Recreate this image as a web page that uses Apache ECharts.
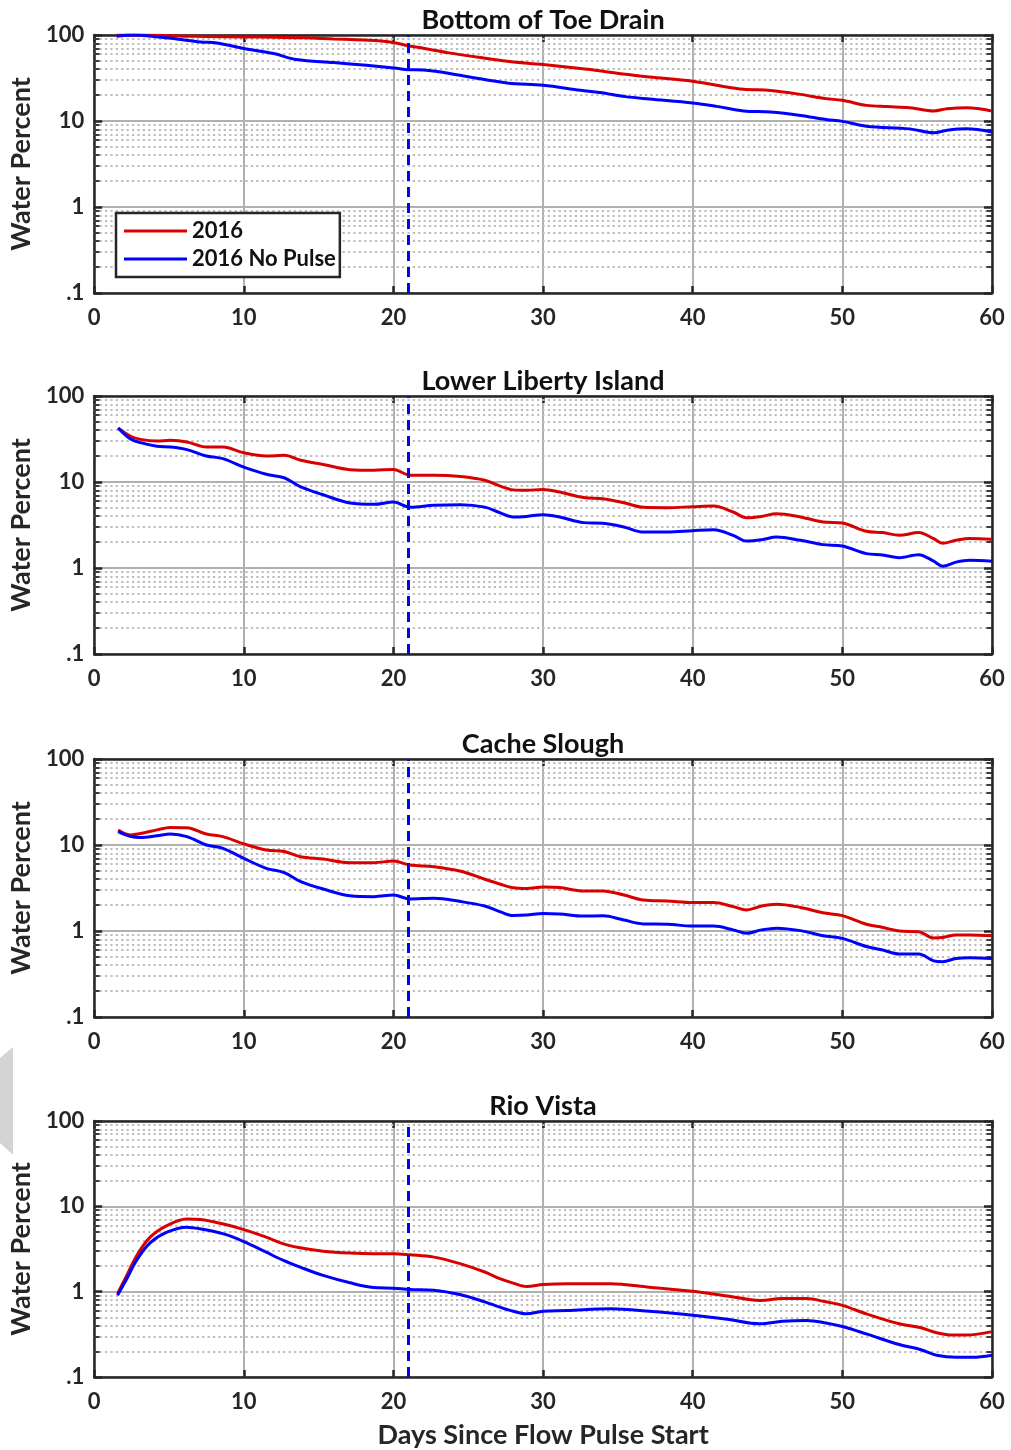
<!DOCTYPE html>
<html>
<head>
<meta charset="utf-8">
<script src="https://cdn.jsdelivr.net/npm/echarts@6/dist/echarts.min.js"></script>
<style>
  html, body { margin: 0; padding: 0; background: #fff; }
  #chart { width: 1011px; height: 1450px; }
</style>
</head>
<body>
<div id="chart"></div>
<script>
// ---------------- DATA ----------------
const PANEL_TITLES = ['Bottom of Toe Drain', 'Lower Liberty Island', 'Cache Slough', 'Rio Vista'];
const SERIES_NAMES = ['2016', '2016 No Pulse'];
const X_TICKS = [0, 10, 20, 30, 40, 50, 60];
const Y_TICK_LABELS = { 0.1: '.1', 1: '1', 10: '10', 100: '100' };
const PULSE_DAY = 21;

// Bottom of Toe Drain
const TOE_DAYS_RED = [1.5, 3, 4.5, 6, 7.5, 10, 12, 14, 16, 17.5, 19, 20, 21, 22, 23.6, 25.8, 27.6, 30, 32.5, 34, 35.5, 37.1, 40, 41.6, 43.4, 45.2, 47.2, 48.9, 50, 51.6, 53, 54.5, 56.1, 57, 58.3, 60];
const TOE_RED = [100, 100, 99, 97, 96, 95, 94, 93, 90, 88, 86, 82, 75, 70, 62.4, 54.6, 49.5, 45.3, 40.7, 38, 34.9, 32.5, 29, 26, 23.4, 22.7, 20.4, 18.2, 17.4, 15.2, 14.7, 14.3, 13.1, 13.9, 14.3, 13.1];
const TOE_DAYS_BLUE = [1.5, 2.6, 4.3, 5.5, 7.1, 8.2, 10, 12, 13.5, 16, 18.2, 20.2, 21, 22, 24.7, 27.6, 30, 32.5, 33.8, 35.5, 37.1, 40, 41.6, 43.4, 45.2, 47.2, 48.9, 50, 51.6, 54.5, 56.1, 57, 58.3, 60];
const TOE_BLUE = [97, 100, 95, 90, 83, 80.8, 69.5, 60.8, 51.8, 47.8, 44.4, 41, 39.5, 39.2, 33.4, 27.7, 26, 22.8, 21.5, 19.2, 18, 16.2, 14.8, 13.1, 12.7, 11.6, 10.4, 9.9, 8.7, 8.1, 7.3, 7.8, 8.1, 7.45];

// Lower Liberty Island & Cache Slough share day samples
const SHARED_DAYS = [1.6, 2.4, 3.1, 4.2, 5.1, 6.2, 7.5, 8.6, 10, 11.5, 12.7, 13.8, 15.3, 17.1, 18.7, 20, 21.1, 22.7, 24.5, 26.1, 27.1, 28, 28.9, 30, 31.1, 32.7, 34, 35.4, 36.7, 38.3, 40, 41.4, 42.7, 43.6, 44.6, 45.6, 47.2, 48.7, 50, 51.6, 52.7, 53.8, 55.1, 56.1, 56.7, 57.6, 58.5, 60];
const LIBERTY_RED = [42.5, 34.3, 31.3, 30, 30.5, 29.2, 25.5, 25.5, 21.9, 20.1, 20.4, 17.9, 16, 13.9, 13.7, 14, 12.0, 12, 11.6, 10.5, 9.0, 8.1, 8.0, 8.2, 7.65, 6.6, 6.4, 5.75, 5.07, 5.03, 5.16, 5.26, 4.48, 3.85, 3.98, 4.28, 3.92, 3.43, 3.34, 2.67, 2.58, 2.4, 2.58, 2.19, 1.94, 2.1, 2.21, 2.16];
const LIBERTY_BLUE = [42.5, 31.9, 28.7, 26, 25.5, 23.8, 20.1, 18.7, 14.9, 12.3, 11.2, 8.75, 7.1, 5.7, 5.5, 5.85, 5.1, 5.36, 5.45, 5.1, 4.4, 3.92, 3.98, 4.17, 3.92, 3.37, 3.31, 3.0, 2.62, 2.62, 2.72, 2.79, 2.4, 2.06, 2.13, 2.29, 2.1, 1.87, 1.8, 1.47, 1.42, 1.32, 1.43, 1.2, 1.05, 1.17, 1.23, 1.2];
const CACHE_RED = [14.9, 13.1, 13.6, 15, 16, 15.9, 13.4, 12.5, 10.3, 8.75, 8.4, 7.3, 6.87, 6.23, 6.23, 6.5, 5.85, 5.6, 4.95, 4.0, 3.52, 3.19, 3.13, 3.25, 3.2, 2.92, 2.92, 2.62, 2.29, 2.23, 2.14, 2.14, 1.92, 1.76, 1.95, 2.04, 1.88, 1.63, 1.51, 1.2, 1.1, 1.0, 0.98, 0.83, 0.84, 0.9, 0.9, 0.88];
const CACHE_BLUE = [14.3, 12.6, 12.2, 12.8, 13.4, 12.5, 10, 9.15, 7.0, 5.36, 4.77, 3.75, 3.08, 2.57, 2.51, 2.62, 2.36, 2.4, 2.2, 1.95, 1.68, 1.51, 1.53, 1.6, 1.58, 1.49, 1.5, 1.34, 1.21, 1.2, 1.14, 1.14, 1.03, 0.94, 1.03, 1.08, 1.01, 0.88, 0.82, 0.66, 0.6, 0.54, 0.54, 0.45, 0.44, 0.48, 0.49, 0.48];

// Rio Vista
const RIO_DAYS_RED = [1.56, 2.18, 2.85, 3.74, 4.86, 6.19, 7.1, 8.64, 10, 11.5, 12.65, 13.76, 15.3, 17.1, 18.66, 20, 21.1, 22.7, 24.5, 26.1, 27.1, 28, 28.9, 30, 31.6, 34.5, 37.1, 40, 42.3, 44.5, 46, 47.6, 48.9, 50, 51.6, 53.8, 55.2, 56.3, 57.4, 58.3, 60];
const RIO_RED = [0.95, 1.55, 2.66, 4.35, 5.95, 7.1, 7.0, 6.2, 5.34, 4.35, 3.63, 3.27, 2.98, 2.83, 2.78, 2.78, 2.7, 2.54, 2.12, 1.7, 1.42, 1.26, 1.15, 1.21, 1.24, 1.24, 1.13, 1.01, 0.89, 0.79, 0.83, 0.83, 0.76, 0.69, 0.55, 0.42, 0.38, 0.33, 0.31, 0.31, 0.34];
const RIO_DAYS_BLUE = [1.56, 2.18, 2.85, 3.74, 4.86, 6.19, 7.1, 8.64, 10, 11.5, 12.65, 13.76, 15.3, 17.1, 18.66, 20, 21.1, 22.7, 24.5, 26.1, 27.1, 28, 28.9, 30, 31.6, 34.5, 37.1, 40, 42.3, 44.5, 46, 47.6, 48.9, 50, 51.6, 53.8, 55.2, 56.3, 57.6, 58.7, 60];
const RIO_BLUE = [0.91, 1.42, 2.36, 3.73, 4.97, 5.69, 5.44, 4.75, 3.87, 2.9, 2.32, 1.94, 1.55, 1.27, 1.12, 1.1, 1.06, 1.04, 0.92, 0.76, 0.66, 0.59, 0.55, 0.59, 0.6, 0.63, 0.59, 0.53, 0.475, 0.42, 0.45, 0.46, 0.43, 0.39, 0.32, 0.24, 0.21, 0.18, 0.17, 0.17, 0.18];

// ---------------- BUILD ----------------
const zip = (xs, ys) => xs.map((x, i) => [x, ys[i]]);
const PANELS = [
  { red: zip(TOE_DAYS_RED, TOE_RED), blue: zip(TOE_DAYS_BLUE, TOE_BLUE) },
  { red: zip(SHARED_DAYS, LIBERTY_RED), blue: zip(SHARED_DAYS, LIBERTY_BLUE) },
  { red: zip(SHARED_DAYS, CACHE_RED), blue: zip(SHARED_DAYS, CACHE_BLUE) },
  { red: zip(RIO_DAYS_RED, RIO_RED), blue: zip(RIO_DAYS_BLUE, RIO_BLUE) }
];

const FONT = 'Lato';
const INK = '#262626';
const RED = '#d90000';
const BLUE = '#0000ff';
const TOPS = [35, 396, 759, 1121];
const PLOT_LEFT = 94, PLOT_W = 898, PLOT_H = 258;

// minor grid values (2..9 in each decade)
const MINOR = [];
[0.1, 1, 10].forEach(d => { for (let k = 2; k <= 9; k++) MINOR.push(+(k * d).toFixed(3)); });

const grids = [], xAxes = [], yAxes = [], series = [], graphics = [];

TOPS.forEach((top, i) => {
  grids.push({ left: PLOT_LEFT, top: top, width: PLOT_W, height: PLOT_H });
  const isLast = i === TOPS.length - 1;
  // bottom x axis
  xAxes.push({
    gridIndex: i, type: 'value', position: 'bottom', min: 0, max: 60, interval: 10,
    name: isLast ? 'Days Since Flow Pulse Start' : '',
    nameLocation: 'middle', nameGap: 45,
    nameTextStyle: { fontFamily: FONT, fontWeight: 'bold', fontSize: 27, color: INK },
    axisLine: { show: true, onZero: false, lineStyle: { color: INK, width: 2.5 } },
    axisTick: { show: true, inside: true, length: 7, lineStyle: { color: INK, width: 2.5 } },
    axisLabel: { fontFamily: FONT, fontWeight: 'bold', fontSize: 22, color: INK, margin: 14 },
    splitLine: { show: true, lineStyle: { color: '#b0b0b0', width: 2 } }
  });
  // top x axis (box + ticks)
  xAxes.push({
    gridIndex: i, type: 'value', position: 'top', min: 0, max: 60, interval: 10,
    axisLine: { show: true, onZero: false, lineStyle: { color: INK, width: 2.5 } },
    axisTick: { show: true, inside: true, length: 7, lineStyle: { color: INK, width: 2.5 } },
    axisLabel: { show: false }, splitLine: { show: false }
  });
  // left y axis
  yAxes.push({
    gridIndex: i, type: 'log', logBase: 10, min: 0.1, max: 100, position: 'left',
    name: 'Water Percent', nameLocation: 'middle', nameGap: 55, nameRotate: 90,
    nameTextStyle: { fontFamily: FONT, fontWeight: 'bold', fontSize: 27, color: INK },
    axisLine: { show: true, onZero: false, lineStyle: { color: INK, width: 2.5 } },
    axisTick: { show: true, inside: true, length: 8, lineStyle: { color: INK, width: 2.5 } },
    axisLabel: {
      fontFamily: FONT, fontWeight: 'bold', fontSize: 22, color: INK, margin: 10,
      formatter: v => {
        const key = v < 0.5 ? 0.1 : Math.round(v);
        return Y_TICK_LABELS[key] !== undefined ? Y_TICK_LABELS[key] : '';
      }
    },
    splitLine: { show: true, lineStyle: { color: '#b0b0b0', width: 2 } }
  });
  // right y axis
  yAxes.push({
    gridIndex: i, type: 'log', logBase: 10, min: 0.1, max: 100, position: 'right',
    axisLine: { show: true, onZero: false, lineStyle: { color: INK, width: 2.5 } },
    axisTick: { show: true, inside: true, length: 8, lineStyle: { color: INK, width: 2.5 } },
    axisLabel: { show: false }, splitLine: { show: false }
  });

  const xi = 2 * i, yi = 2 * i;

  // helper series: minor dotted grid + minor ticks (drawn beneath the curves)
  const mlData = [];
  MINOR.forEach(v => {
    mlData.push({ yAxis: v, lineStyle: { color: '#bcbcbc', width: 2.2, type: [2.2, 3.2] } });
    mlData.push([{ coord: [0, v] }, { coord: [0.36, v], lineStyle: { color: INK, width: 1.8, type: 'solid' } }]);
    mlData.push([{ coord: [59.64, v] }, { coord: [60, v], lineStyle: { color: INK, width: 1.8, type: 'solid' } }]);
  });
  series.push({
    name: 'grid' + i, type: 'line', xAxisIndex: xi, yAxisIndex: yi, data: [], z: 1, silent: true,
    markLine: { z: 1, silent: true, symbol: ['none', 'none'], label: { show: false }, animation: false, data: mlData }
  });

  const p = PANELS[i];
  series.push({
    name: SERIES_NAMES[0], type: 'line', xAxisIndex: xi, yAxisIndex: yi, data: p.red,
    smooth: 0.35, symbol: 'none', z: 3,
    lineStyle: { color: RED, width: 3 }, itemStyle: { color: RED }
  });
  series.push({
    name: SERIES_NAMES[1], type: 'line', xAxisIndex: xi, yAxisIndex: yi, data: p.blue,
    smooth: 0.35, symbol: 'none', z: 3,
    lineStyle: { color: BLUE, width: 3 }, itemStyle: { color: BLUE },
    markLine: {
      z: 4, silent: true, symbol: ['none', 'none'], label: { show: false }, animation: false,
      data: [{ xAxis: PULSE_DAY, lineStyle: { color: BLUE, width: 3, type: [10, 6] } }]
    }
  });

  graphics.push({
    type: 'text',
    x: PLOT_LEFT + PLOT_W / 2, y: top - 15,
    style: {
      text: PANEL_TITLES[i], textAlign: 'center', textVerticalAlign: 'middle',
      font: 'bold 27px ' + FONT, fill: '#111'
    }
  });
});

// decorative grey shape at the left edge (present in the original image)
graphics.push({
  type: 'polygon', silent: true,
  shape: { points: [[0, 1058], [13, 1047], [13, 1155], [0, 1143]] },
  style: { fill: '#d4d4d4' }
});

const option = {
  animation: false,
  backgroundColor: '#ffffff',
  grid: grids,
  xAxis: xAxes,
  yAxis: yAxes,
  series: series,
  legend: {
    data: SERIES_NAMES,
    left: 116, top: 213, orient: 'vertical',
    icon: 'rect', itemWidth: 63, itemHeight: 3, itemGap: 6,
    padding: [7, 4, 7, 8],
    borderColor: INK, borderWidth: 2.5, backgroundColor: '#ffffff',
    textStyle: { fontFamily: FONT, fontWeight: 'bold', fontSize: 22, color: '#111' },
    selectedMode: false
  },
  graphic: graphics
};

const chart = echarts.init(document.getElementById('chart'), null, { renderer: 'canvas' });
chart.setOption(option);
</script>
</body>
</html>
